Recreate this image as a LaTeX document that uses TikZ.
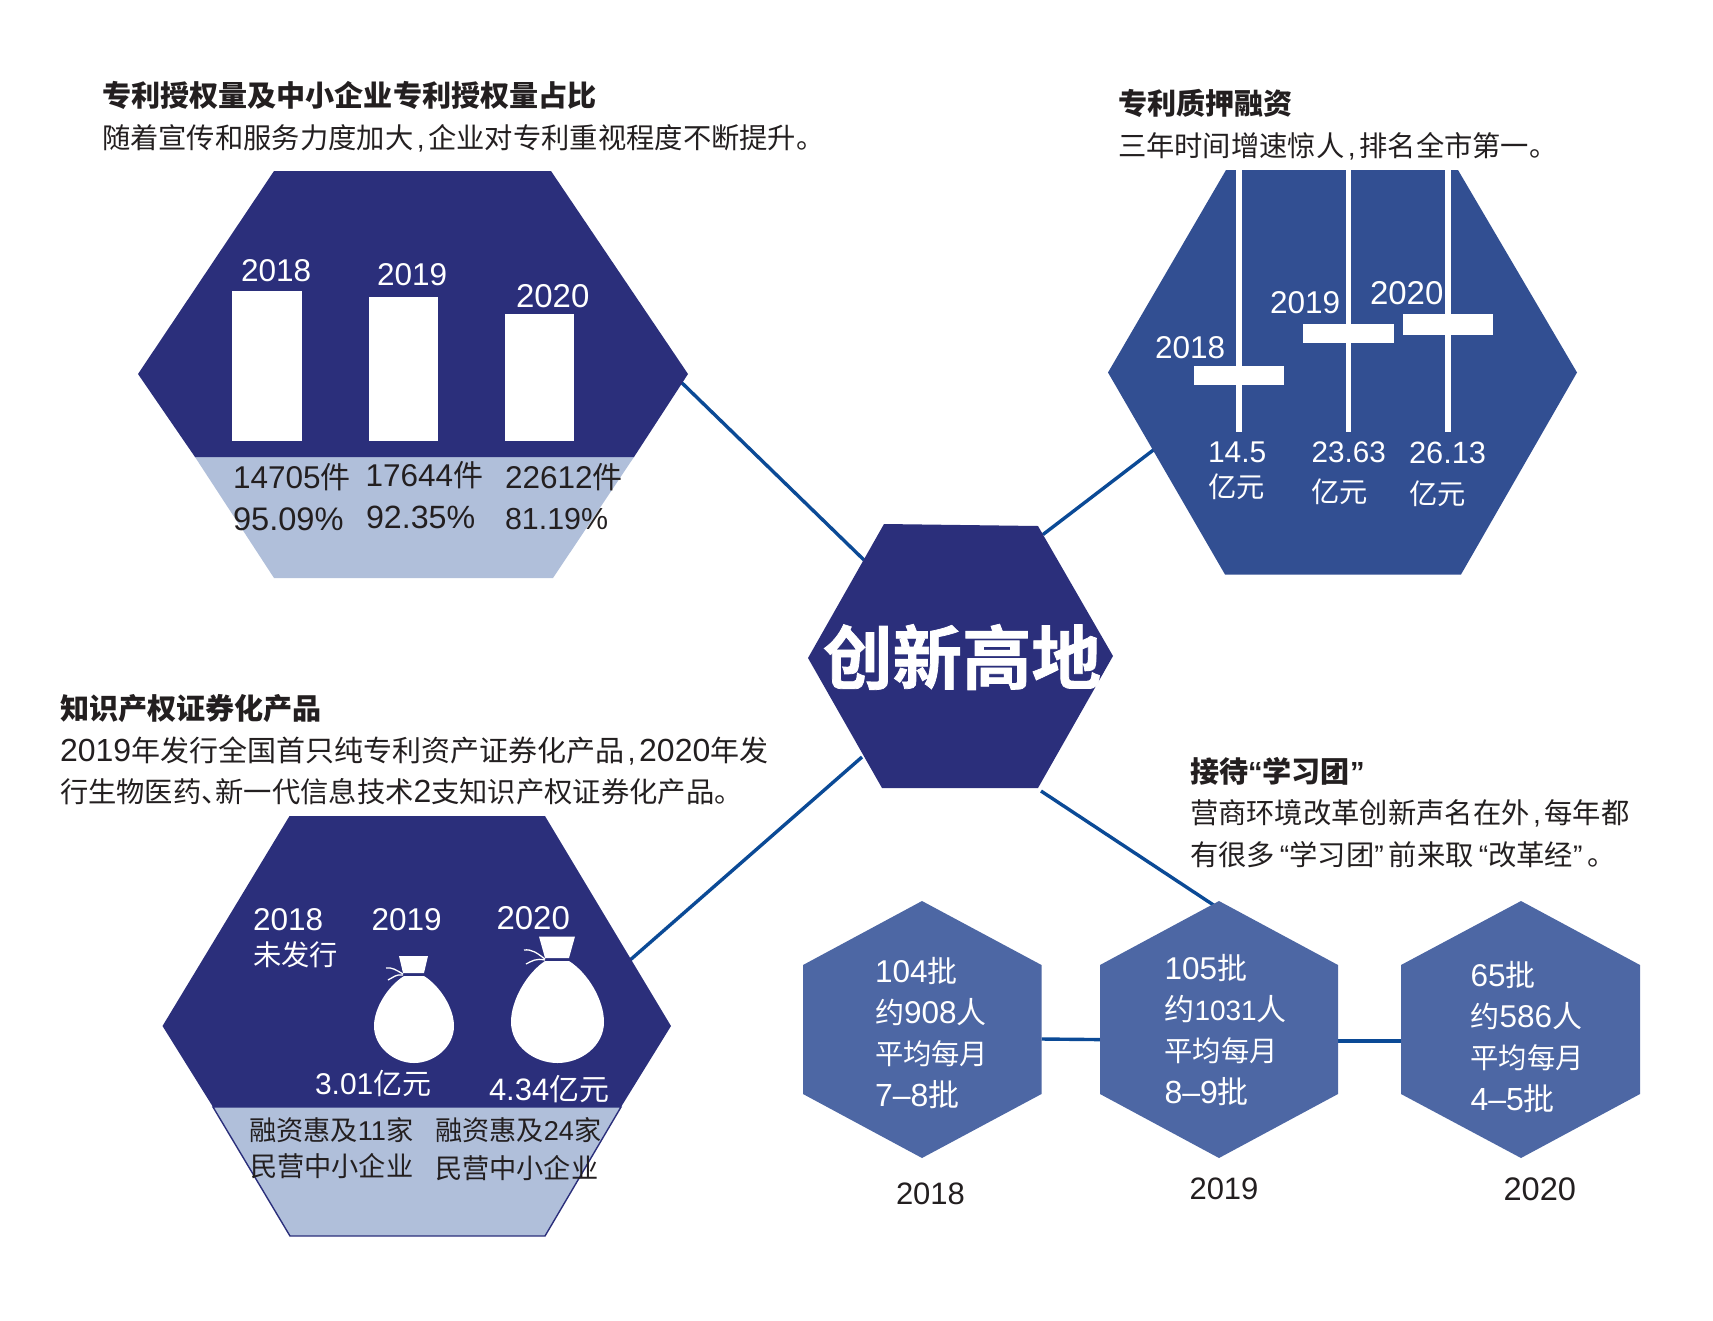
\documentclass[tikz,border=0pt]{standalone}
\usepackage{fontspec}
\setmainfont{Liberation Sans}
\newfontfamily\cjk{Noto Sans CJK SC}
\newfontfamily\cjkheavy[FakeBold=1.1]{Noto Sans CJK SC Bold}
\newcommand\Z[1]{{\cjk #1}}
\newcommand\ZB[1]{{\cjk\bfseries #1}}
\newcommand\Zn[2]{{\fontsize{#1}{#1}\selectfont\cjk #2}}
\newcommand\Dg[2]{{\fontsize{#1}{#1}\selectfont #2}}
\newcommand\CM{\makebox[15pt][c]{,}}
\newcommand\OQ{\makebox[14.5pt][r]{“}}
\newcommand\CQ{\makebox[14.5pt][l]{”}}
\definecolor{navy}{HTML}{2B2F7B}
\definecolor{midblue}{HTML}{324F92}
\definecolor{softblue}{HTML}{4D67A4}
\definecolor{band}{HTML}{B0BFDA}
\definecolor{conn}{HTML}{0B4A96}
\definecolor{ink}{HTML}{231F20}
\tikzset{
  lab/.style={inner sep=0pt,outer sep=0pt,anchor=base west},
  dk/.style={lab,text=ink},
  wh/.style={lab,text=white},
  num/.style={font=\fontsize{30}{30}\selectfont},
  numb/.style={font=\fontsize{31.5}{31.5}\selectfont},
  numc/.style={font=\fontsize{33}{33}\selectfont},
  body/.style={font=\fontsize{28.3}{28.3}\selectfont},
  head/.style={font=\fontsize{29.1}{29.1}\selectfont},
  small/.style={font=\fontsize{27.2}{27.2}\selectfont},
  connector/.style={draw=conn,line width=3.4pt},
  tieline/.style={draw=white,line width=1.3pt}
}
\begin{document}
\begin{tikzpicture}[x=1pt,y=-1pt]
\useasboundingbox (0,0) rectangle (1713,1320);
% connector end points
\coordinate (pA) at (680,381);
\coordinate (cA) at (864,560);
\coordinate (pB) at (1154,449.5);
\coordinate (cB) at (1043,534.5);
\coordinate (pC) at (629,961);
\coordinate (cC) at (862,757);
\coordinate (pD) at (1215,906);
\coordinate (cD) at (1041,791);
\coordinate (e1) at (1041.5,1039);
\coordinate (w2) at (1100.5,1039.6);
\coordinate (e2) at (1337.6,1041);
\coordinate (w3) at (1402.6,1041);
\draw[connector] (pA) -- (cA);
\draw[connector] (pB) -- (cB);
\draw[connector] (pC) -- (cC);
\draw[connector] (pD) -- (cD);
\draw[connector] (e1) -- (w2);
\draw[connector] (e2) -- (w3);

% ---------- hexagon A
\fill[band] (195,457) -- (634,457) -- (553,578) -- (274,578) -- cycle;
\fill[navy] (138,374) -- (274,171) -- (551,171) -- (688,374) -- (634,457) -- (195,457) -- cycle;
\fill[white] (232,291) rectangle (301.5,441);
\fill[white] (369,296.5) rectangle (438,441);
\fill[white] (505,313.5) rectangle (574,441);
\node[dk,head] (a-title) at (102,106) {\ZB{专利授权量及中小企业专利授权量占比}};
\node[dk,body] (a-sub) at (102,148) {\Z{随着宣传和服务力度加大}\CM\Z{企业对专利重视程度不断提升。}};
\node[wh,numb] (a-y18) at (241,281) {2018};
\node[wh,numb] (a-y19) at (377,285) {2019};
\node[wh,numc] (a-y20) at (516,307) {2020};
\node[dk,numb] (a-n18) at (233,488) {14705\Zn{30}{件}};
\node[dk,numb] (a-n19) at (365.5,486) {17644\Zn{30}{件}};
\node[dk,numb] (a-n20) at (505,488) {22612\Zn{30}{件}};
\node[dk,font=\fontsize{32.6}{33}\selectfont] (a-p18) at (233,530) {95.09\%};
\node[dk,font=\fontsize{32.2}{33}\selectfont] (a-p19) at (366,528) {92.35\%};
\node[dk,font=\fontsize{30.4}{33}\selectfont] (a-p20) at (505,529.5) {81.19\%};

% ---------- hexagon B
\fill[midblue] (1108,372.5) -- (1226,170) -- (1458,170) -- (1577,372.5) -- (1461,574.5) -- (1225,574.5) -- cycle;
\draw[white,line width=5.6pt] (1239,170) -- (1239,432);
\draw[white,line width=5.6pt] (1348.5,170) -- (1348.5,432);
\draw[white,line width=5.6pt] (1448,170) -- (1448,432);
\fill[white] (1193.5,366) rectangle (1284,385);
\fill[white] (1303,324) rectangle (1394,343);
\fill[white] (1403,313.5) rectangle (1493,334.6);
\node[dk,head] (b-title) at (1118,114) {\ZB{专利质押融资}};
\node[dk,body] (b-sub) at (1118,156.5) {\Z{三年时间增速惊人}\CM\Z{排名全市第一。}};
\node[wh,numb] (b-y18) at (1155,358) {2018};
\node[wh,numb] (b-y19) at (1270,313.5) {2019};
\node[wh,numc] (b-y20) at (1370,304.5) {2020};
\node[wh,num] (b-n18) at (1208,462) {14.5};
\node[wh,font=\fontsize{29.7}{29.7}\selectfont] (b-n19) at (1311.5,462) {23.63};
\node[wh,font=\fontsize{30.8}{30.8}\selectfont] (b-n20) at (1409,463) {26.13};
\node[wh,body] (b-u18) at (1208,497) {\Z{亿元}};
\node[wh,body] (b-u19) at (1311.5,502) {\Z{亿元}};
\node[wh,body] (b-u20) at (1409,504) {\Z{亿元}};

% ---------- centre hexagon
\fill[navy] (808,658) -- (884,524) -- (1038,526) -- (1113,656) -- (1038,788) -- (882,788) -- cycle;
\node[inner sep=0pt,text=white,font=\fontsize{69.5}{69.5}\cjkheavy] (centre) at (962,657) {创新高地};

% ---------- hexagon C
\fill[navy] (162.5,1026) -- (289.5,816) -- (545,816) -- (671,1026) -- (621,1107) -- (213,1107) -- cycle;
\draw[navy,line width=1.4pt,fill=band] (213,1107) -- (621,1107) -- (545,1236) -- (290,1236) -- cycle;
\node[dk,head] (c-title) at (60,719) {\ZB{知识产权证券化产品}};
\node[dk,font=\fontsize{29}{29}\selectfont] (c-sub1) at (60,761) {\Dg{32}{2019}\Z{年发行全国首只纯专利资产证券化产品}\CM\Dg{32}{2020}\Z{年发}};
\node[dk,body] (c-sub2) at (60,802) {\Z{行生物医药}\makebox[14pt][l]{\Z{、}}\Z{新一代信息技术}\Dg{32}{2}\Z{支知识产权证券化产品。}};
\node[wh,numb] (c-y18) at (253,930.5) {2018};
\node[wh,body] (c-none) at (253,965) {\Z{未发行}};
\node[wh,numb] (c-y19) at (371.5,930.5) {2019};
\node[wh,numc] (c-y20) at (496.5,929) {2020};
% bag 2019
\fill[white] (404,976) .. controls (388,986) and (374,1008) .. (374,1026) .. controls (374,1047) and (394,1063) .. (414,1063) .. controls (434,1063) and (454,1047) .. (454,1026) .. controls (454,1008) and (440,986) .. (424,976) -- cycle;
\fill[white] (399,956) -- (428,956) -- (424,973) -- (403,973) -- cycle;
\draw[tieline] (403,974) .. controls (396,970) and (392,967) .. (386,968);
\draw[tieline] (403,975) .. controls (396,974) and (394,977) .. (388,980);
% bag 2020
\fill[white] (545,961) .. controls (527,973) and (511,1000) .. (511,1022) .. controls (511,1046) and (534,1063) .. (557.5,1063) .. controls (581,1063) and (604,1046) .. (604,1022) .. controls (604,1000) and (588,973) .. (569,961) -- cycle;
\fill[white] (539,936.5) -- (575,936.5) -- (569,958) -- (545,958) -- cycle;
\draw[tieline] (545,959) .. controls (537,953) and (532,949) .. (524,950);
\draw[tieline] (545,960) .. controls (536,958) and (532,961) .. (526,964);
\node[wh,num] (c-a19) at (315,1094) {3.01\Zn{29}{亿元}};
\node[wh,font=\fontsize{31}{31}\selectfont] (c-a20) at (489,1100) {4.34\Zn{30}{亿元}};
\node[dk,small] (c-f11) at (249,1140) {\Z{融资惠及}11\Z{家}};
\node[dk,small] (c-s11) at (250,1176.5) {\Z{民营中小企业}};
\node[dk,small] (c-f24) at (435,1140.5) {\Z{融资惠及}24\Z{家}};
\node[dk,small] (c-s24) at (435,1178) {\Z{民营中小企业}};

% ---------- row of hexagons D
\fill[softblue] (922,901) -- (1041.5,965) -- (1041.5,1094) -- (922,1158) -- (803,1094) -- (803,965) -- cycle;
\fill[softblue] (1219,901) -- (1338,965) -- (1338,1094) -- (1219,1158) -- (1100,1094) -- (1100,965) -- cycle;
\fill[softblue] (1521,901) -- (1640,965) -- (1640,1094) -- (1521,1158) -- (1401,1094) -- (1401,965) -- cycle;
\node[dk,head] (d-title) at (1190,782) {\ZB{接待}\textbf{“}\ZB{学习团}\textbf{”}};
\node[dk,body] (d-sub1) at (1190,823) {\Z{营商环境改革创新声名在外}\CM\Z{每年都}};
\node[dk,body] (d-sub2) at (1190,865) {\Z{有很多}\OQ\Z{学习团}\CQ\Z{前来取}\OQ\Z{改革经}\CQ\Z{。}};
\node[wh,numb] (d1-a) at (875,982.5) {104\Zn{30}{批}};
\node[wh,numb] (d1-b) at (875,1023.5) {\Zn{29}{约}908\Zn{30}{人}};
\node[wh,body] (d1-c) at (875,1064.5) {\Z{平均每月}};
\node[wh,font=\fontsize{32}{32}\selectfont] (d1-d) at (875,1106) {7--8\Zn{31}{批}};
\node[wh,numb] (d2-a) at (1164.5,979.5) {105\Zn{30}{批}};
\node[wh,num] (d2-b) at (1164.5,1020.5) {\Z{约}\Dg{28}{1031}\Z{人}};
\node[wh,body] (d2-c) at (1164.5,1061.5) {\Z{平均每月}};
\node[wh,font=\fontsize{32}{32}\selectfont] (d2-d) at (1164.5,1103) {8--9\Zn{31}{批}};
\node[wh,numb] (d3-a) at (1470.5,986.5) {65\Zn{30}{批}};
\node[wh,numb] (d3-b) at (1470.5,1027.5) {\Zn{29}{约}586\Zn{30}{人}};
\node[wh,body] (d3-c) at (1470.5,1068.5) {\Z{平均每月}};
\node[wh,font=\fontsize{32}{32}\selectfont] (d3-d) at (1470.5,1110) {4--5\Zn{31}{批}};
\node[dk,font=\fontsize{31}{31}\selectfont] (d1-y) at (896,1204) {2018};
\node[dk,font=\fontsize{31}{31}\selectfont] (d2-y) at (1189.5,1199) {2019};
\node[dk,font=\fontsize{32.6}{33}\selectfont] (d3-y) at (1503.5,1200) {2020};
\end{tikzpicture}
\end{document}
